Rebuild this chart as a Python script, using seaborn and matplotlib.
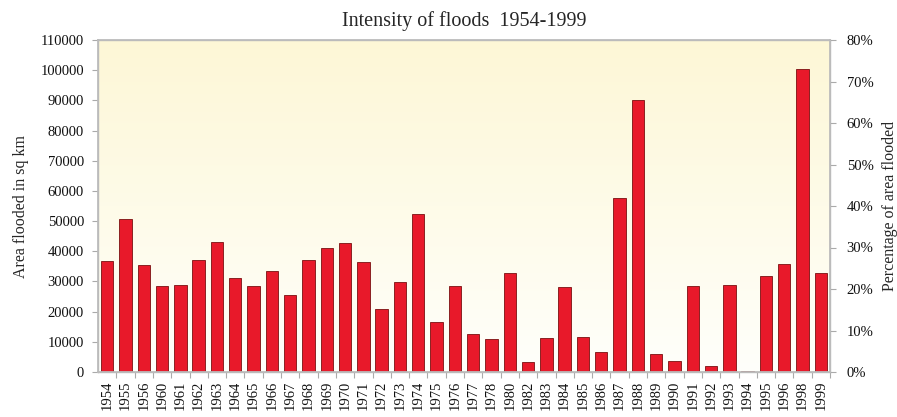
import numpy as np
import pandas as pd
import matplotlib
matplotlib.use("Agg")
import matplotlib.pyplot as plt
from matplotlib.colors import LinearSegmentedColormap
import seaborn as sns

years = ["1954", "1955", "1956", "1960", "1961", "1962", "1963", "1964", "1965", "1966",
         "1967", "1968", "1969", "1970", "1971", "1972", "1973", "1974", "1975", "1976",
         "1977", "1978", "1980", "1982", "1983", "1984", "1985", "1986", "1987", "1988",
         "1989", "1990", "1991", "1992", "1993", "1994", "1995", "1996", "1998", "1999"]
area_sq_km = [36900, 50600, 35600, 28400, 28900, 37100, 43200, 31000, 28400, 33300,
              25500, 37100, 41200, 42600, 36600, 20800, 29800, 52400, 16600, 28400,
              12500, 11000, 32900, 3400, 11300, 28000, 11700, 6700, 57600, 90100,
              6000, 3600, 28400, 2100, 28700, 400, 31900, 35700, 100500, 32900]
left_ticks = list(range(0, 110001, 10000))
right_ticks = list(range(0, 81, 10))

sns.set_theme(style="white")
plt.rcParams["font.family"] = ["Liberation Serif", "DejaVu Serif"]

df = pd.DataFrame({"year": years, "area": area_sq_km})

fig = plt.figure(figsize=(8.97, 4.17), dpi=100)
ax = fig.add_axes([98 / 897, 1 - 372 / 417, 732 / 897, 332 / 417])

# soft yellow gradient behind the bars
grad = LinearSegmentedColormap.from_list("bg", ["#fffffb", "#fdf7d6"])
ax.imshow(np.linspace(0, 1, 256).reshape(-1, 1), cmap=grad, origin="lower",
          extent=[0, 1, 0, 1], transform=ax.transAxes, aspect="auto", zorder=0)

sns.barplot(data=df, x="year", y="area", color="#e8192a", saturation=1,
            width=0.68, edgecolor="#7a1010", linewidth=0.6, ax=ax, zorder=2)

ax.set_xlim(-0.5, len(years) - 0.5)
ax.set_ylim(0, 110000)
ax.set_yticks(left_ticks)
ax.set_yticklabels([str(t) for t in left_ticks], fontsize=10.5, color="#111111")
ax.set_xlabel("")
ax.set_ylabel("Area flooded in sq km", fontsize=11.5, labelpad=8)
ax.tick_params(axis="x", which="major", length=0, labelsize=10.5, labelrotation=90,
               pad=6, labelcolor="#111111")
ax.set_xticks(np.arange(len(years)) + 0.5, minor=True)
ax.tick_params(axis="x", which="minor", length=4, color="#aaaaaa", width=0.8, direction="out")
ax.tick_params(axis="y", length=4, color="#aaaaaa", width=0.8, direction="out", pad=6)
ax.xaxis.set_tick_params(which="minor", bottom=True)

for side in ["left", "bottom", "top", "right"]:
    ax.spines[side].set_visible(True)
    ax.spines[side].set_color("#bbbbbb")
    ax.spines[side].set_linewidth(1.0)

ax2 = ax.twinx()
ax2.set_ylim(0, 80)
ax2.set_yticks(right_ticks)
ax2.set_yticklabels([f"{t}%" for t in right_ticks], fontsize=10.5, color="#111111")
ax2.set_ylabel("Percentage of area flooded", fontsize=11.5, labelpad=6)
ax2.tick_params(axis="y", length=4, color="#aaaaaa", width=0.8, direction="out", pad=8)
for side in ["left", "bottom", "top", "right"]:
    ax2.spines[side].set_color("#bbbbbb")

ax.set_title("Intensity of floods  1954-1999", fontsize=14.5, pad=10)

fig.savefig("out.png", dpi=100)
